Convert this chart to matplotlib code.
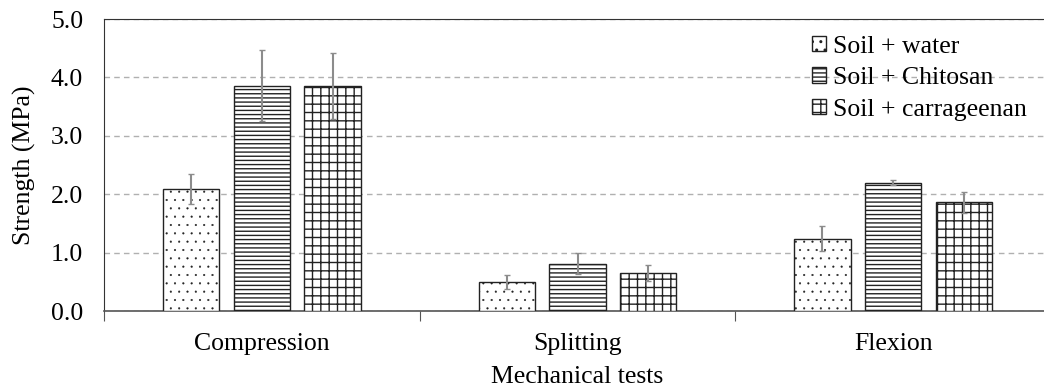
import numpy as np
import matplotlib.pyplot as plt

plt.rcParams['font.family'] = ['Liberation Serif', 'DejaVu Serif']
plt.rcParams['hatch.linewidth'] = 1.0

# data
tests = ['Compression', 'Splitting', 'Flexion']
series = ['Soil + water', 'Soil + Chitosan', 'Soil + carrageenan']
water = [2.09, 0.49, 1.24]
water_err = [0.26, 0.12, 0.22]
chitosan = [3.86, 0.81, 2.20]
chitosan_err = [0.61, 0.18, 0.04]
carrageenan = [3.85, 0.65, 1.86]
carrageenan_err = [0.57, 0.13, 0.18]

values = [water, chitosan, carrageenan]
errors = [water_err, chitosan_err, carrageenan_err]
hatches = ['..', '----', '++']
hatch_lw = [0.3, 1.0, 1.0]

fig = plt.figure(figsize=(10.44, 3.87), dpi=100)
ax = fig.add_axes([104 / 1044, 1 - 311 / 387, 947 / 1044, 292 / 387])

x = np.arange(len(tests))
offset = 0.224
width = 0.178
for i in range(3):
    plt.rcParams['hatch.linewidth'] = hatch_lw[i]
    bars = ax.bar(x + (i - 1) * offset, values[i], width,
                  yerr=errors[i], capsize=2,
                  error_kw=dict(ecolor='#8c8c8c', elinewidth=1.5, capthick=1),
                  facecolor='white', edgecolor='#222222', linewidth=1.0,
                  hatch=hatches[i], label=series[i], zorder=3)
    for b in bars:
        if hasattr(b, 'set_hatch_linewidth'):
            b.set_hatch_linewidth(hatch_lw[i])
plt.rcParams['hatch.linewidth'] = 1.0

# axes
ax.set_xlim(-0.5, 2.5)
ax.set_ylim(0, 5)
ax.set_yticks(np.arange(0, 5.01, 1.0))
ax.set_yticklabels(['%.1f' % v for v in np.arange(0, 5.01, 1.0)])
ax.yaxis.grid(True, linestyle=(0, (4, 3)), color='#b0b0b0', linewidth=1.0, zorder=0)
ax.set_axisbelow(True)
ax.tick_params(axis='y', length=0, labelsize=18.5, pad=15)

ax.set_xticks([-0.5, 0.5, 1.5, 2.5])
ax.set_xticklabels([])
ax.set_xticks(x, minor=True)
ax.set_xticklabels(tests, minor=True)
ax.tick_params(axis='x', which='major', direction='out', length=7, color='#555555')
ax.tick_params(axis='x', which='minor', length=0, labelsize=18.5, pad=16)

ax.spines['right'].set_visible(False)
ax.spines['left'].set_color('#333333')
ax.spines['top'].set_color('#333333')
ax.spines['bottom'].set_color('#555555')
ax.spines['bottom'].set_linewidth(1.2)

ax.set_ylabel('Strength (MPa)', fontsize=18.5, labelpad=11)
ax.set_xlabel('Mechanical tests', fontsize=18.5, labelpad=7.5)

ax.legend(loc='upper right', bbox_to_anchor=(0.992, 1.0), frameon=False,
          fontsize=18.5, handlelength=0.55, handleheight=0.55, handletextpad=0.25,
          labelspacing=0.37, borderaxespad=0.25)

fig.savefig('out.png', dpi=100)
